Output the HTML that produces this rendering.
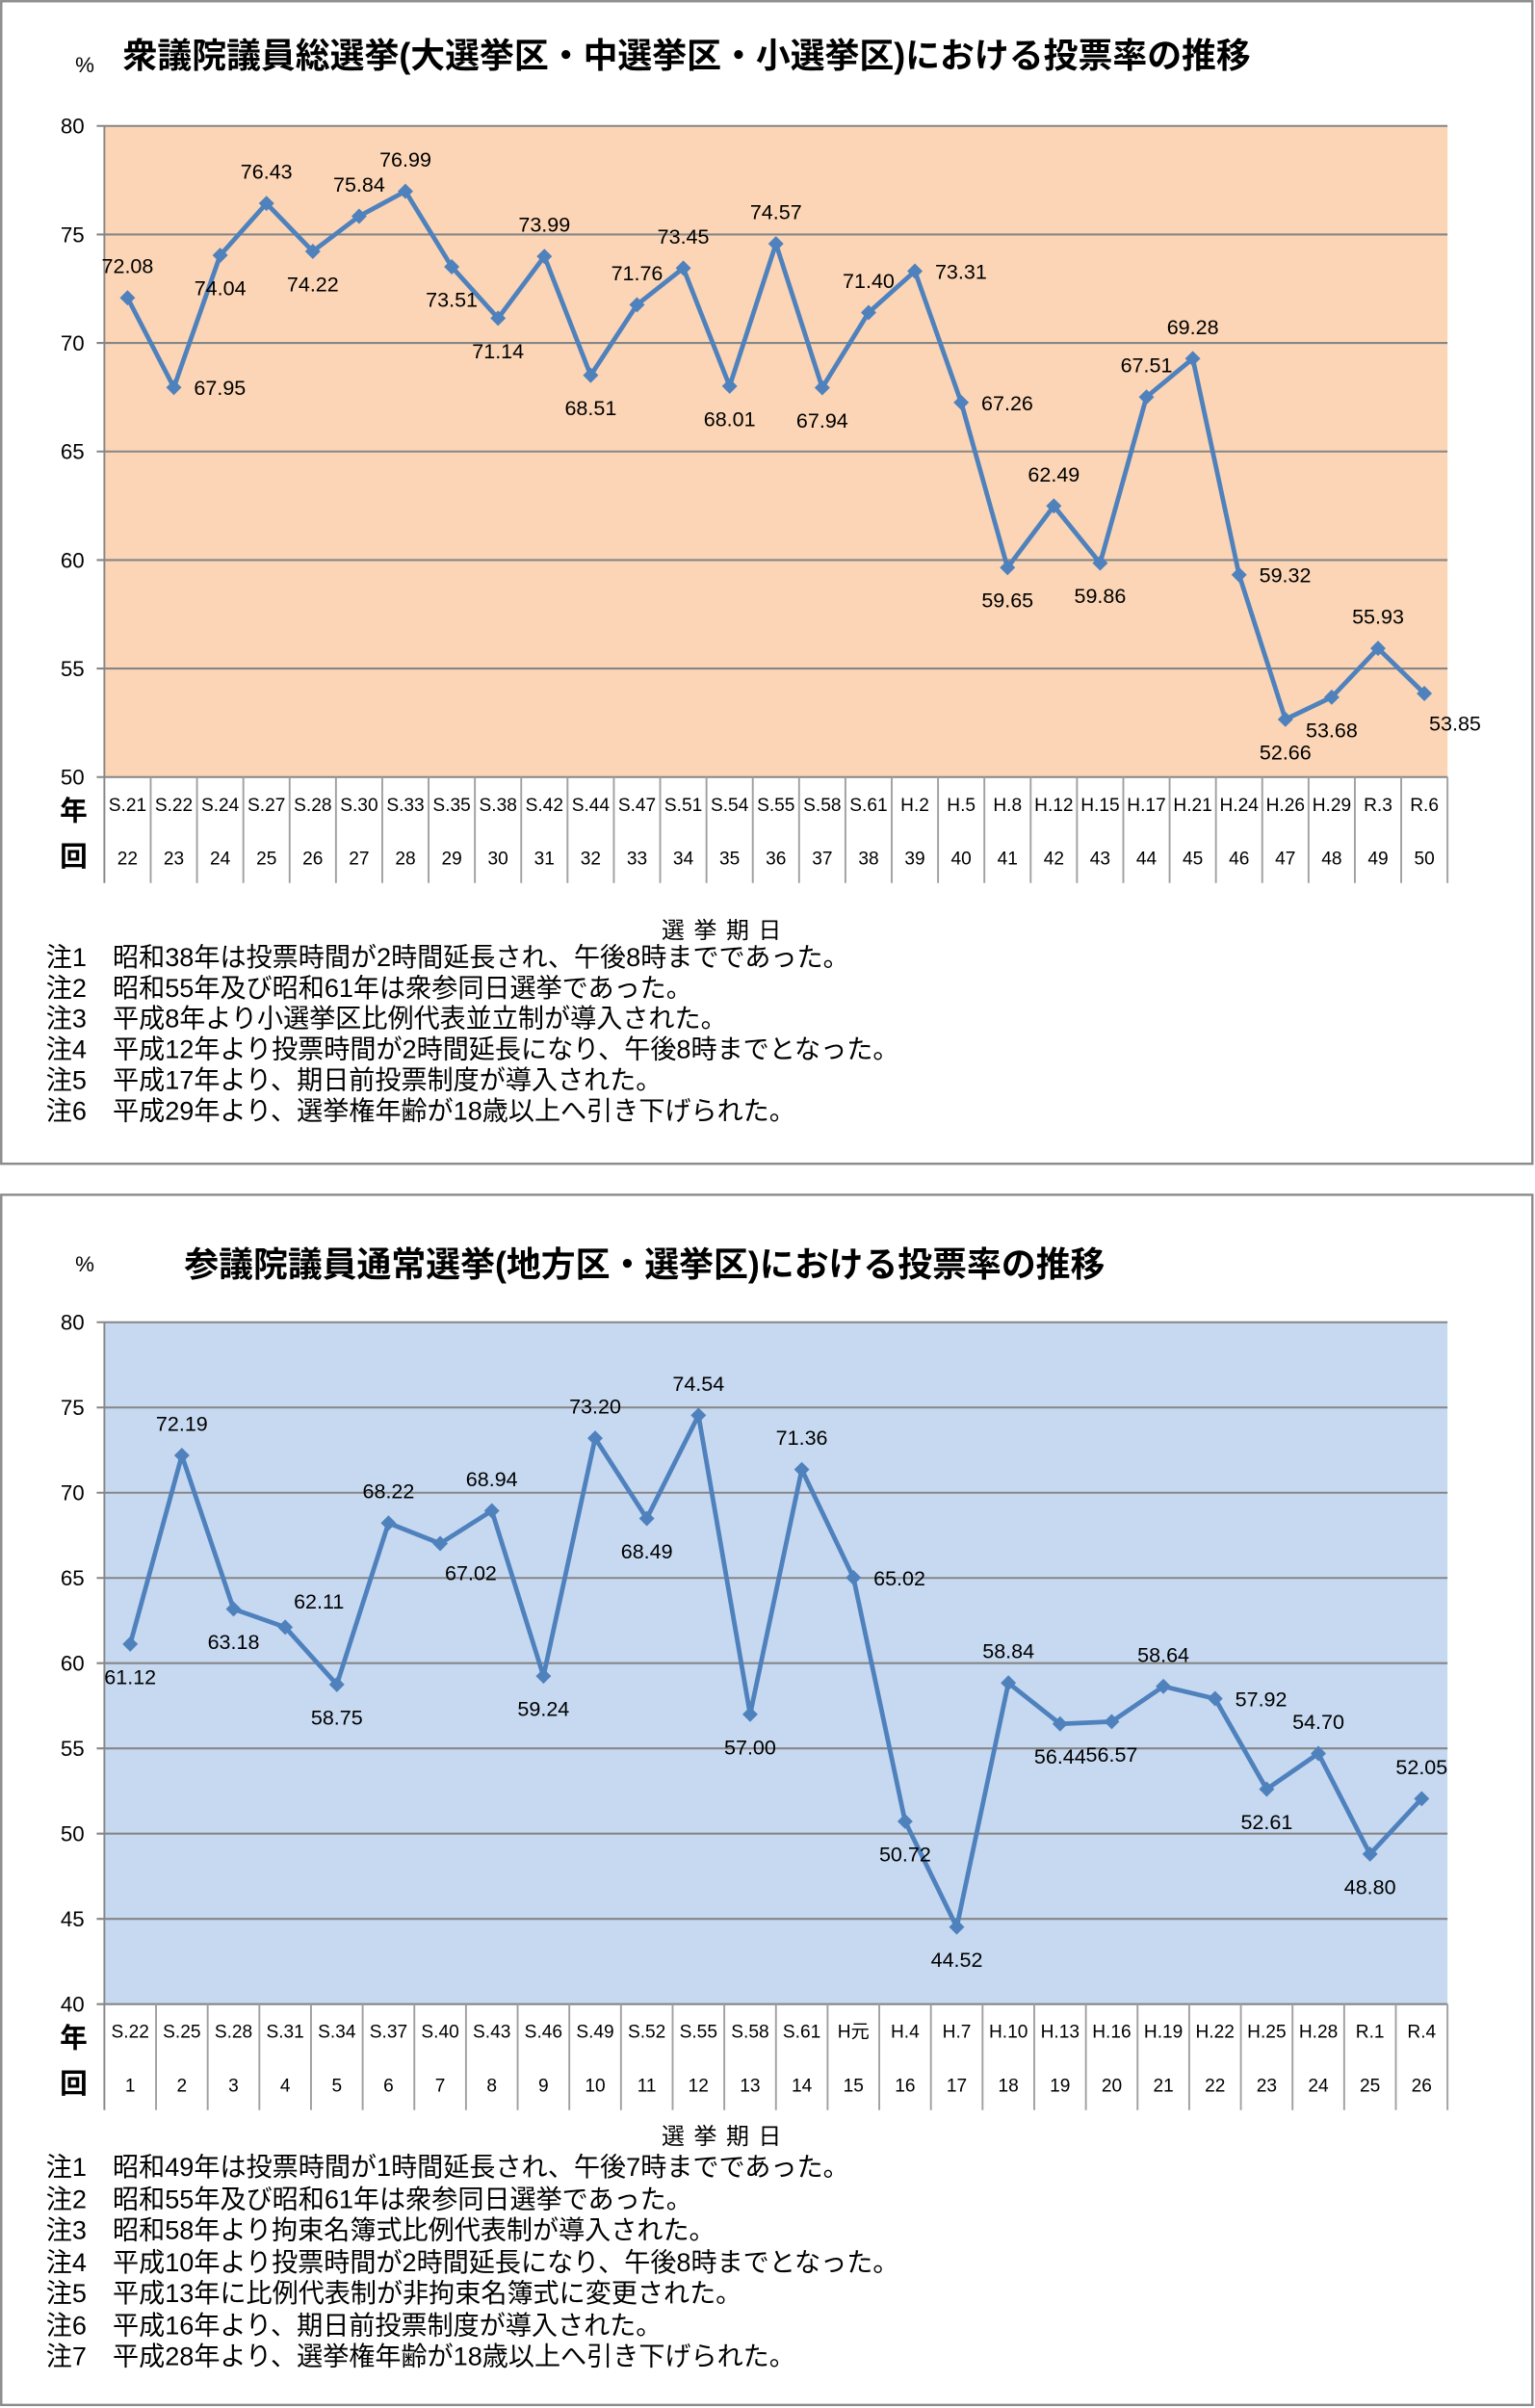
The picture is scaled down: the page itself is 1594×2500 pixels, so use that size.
<!DOCTYPE html>
<html><head><meta charset="utf-8">
<style>
html,body{margin:0;padding:0;background:#fff;}
svg{display:block;}
text{font-family:"Liberation Sans","Noto Sans CJK JP",sans-serif;fill:#000;}
.t{font-size:22.5px;font-weight:bold;}
.y{font-size:14px;}
.c{font-size:12px;}
.d{font-size:13.5px;}
.n{font-size:17px;}
.h{font-size:15px;letter-spacing:6px;}
</style></head><body>
<svg id="s" width="1594" height="2500" viewBox="0 0 1000 1568" preserveAspectRatio="none" xmlns="http://www.w3.org/2000/svg">
<rect x="0.8" y="0.8" width="997.5" height="757" fill="#fff" stroke="#8a8a8a" stroke-width="1.5"/>
<rect x="0.8" y="778" width="997.5" height="788" fill="#fff" stroke="#8a8a8a" stroke-width="1.5"/>
<text x="49" y="47" class="y">%</text>
<text x="80" y="44" class="t">衆議院議員総選挙(大選挙区・中選挙区・小選挙区)における投票率の推移</text>
<text x="49" y="828" class="y">%</text>
<text x="120" y="831" class="t">参議院議員通常選挙(地方区・選挙区)における投票率の推移</text>
<g id="g1"></g><g id="g2"></g>
<text x="473" y="611" class="h" text-anchor="middle">選挙期日</text>
<text x="30" y="629" class="n">注1　昭和38年は投票時間が2時間延長され、午後8時までであった。</text>
<text x="30" y="649" class="n">注2　昭和55年及び昭和61年は衆参同日選挙であった。</text>
<text x="30" y="669" class="n">注3　平成8年より小選挙区比例代表並立制が導入された。</text>
<text x="30" y="689" class="n">注4　平成12年より投票時間が2時間延長になり、午後8時までとなった。</text>
<text x="30" y="709" class="n">注5　平成17年より、期日前投票制度が導入された。</text>
<text x="30" y="729" class="n">注6　平成29年より、選挙権年齢が18歳以上へ引き下げられた。</text>
<text x="473" y="1396" class="h" text-anchor="middle">選挙期日</text>
<text x="30" y="1417" class="n">注1　昭和49年は投票時間が1時間延長され、午後7時までであった。</text>
<text x="30" y="1438" class="n">注2　昭和55年及び昭和61年は衆参同日選挙であった。</text>
<text x="30" y="1458" class="n">注3　昭和58年より拘束名簿式比例代表制が導入された。</text>
<text x="30" y="1479" class="n">注4　平成10年より投票時間が2時間延長になり、午後8時までとなった。</text>
<text x="30" y="1499" class="n">注5　平成13年に比例代表制が非拘束名簿式に変更された。</text>
<text x="30" y="1520" class="n">注6　平成16年より、期日前投票制度が導入された。</text>
<text x="30" y="1540" class="n">注7　平成28年より、選挙権年齢が18歳以上へ引き下げられた。</text>
</svg>
<script>
var NS="http://www.w3.org/2000/svg";
function el(p,n,a,t){var e=document.createElementNS(NS,n);for(var k in a)e.setAttribute(k,a[k]);if(t!==undefined)e.textContent=t;p.appendChild(e);return e;}
function chart(g,o){
 var L=68,R=943,T=o.top,B=o.bot,n=o.vals.length,cw=(R-L)/n;
 var ys=function(v){return B-(v-o.min)/(o.max-o.min)*(B-T);};
 el(g,"rect",{x:L,y:T,width:R-L,height:B-T,fill:o.bg});
 for(var v=o.min;v<=o.max;v+=5){var y=ys(v);
  el(g,"line",{x1:L-5,x2:R,y1:y,y2:y,stroke:"#868686","stroke-width":1.3});
  el(g,"text",{x:55,y:y+5,"class":"y","text-anchor":"end"},String(v));}
 el(g,"line",{x1:L,x2:L,y1:T,y2:B+69,stroke:"#868686","stroke-width":1.2});
 for(var i=1;i<=n;i++){var x=L+i*cw;el(g,"line",{x1:x,x2:x,y1:B,y2:B+69,stroke:"#a0a0a0","stroke-width":1.2});}
 el(g,"text",{x:48,y:B+28,"font-size":"18","font-weight":"bold","text-anchor":"middle"},"年");
 el(g,"text",{x:48,y:B+58,"font-size":"18","font-weight":"bold","text-anchor":"middle"},"回");
 var pts=[];
 for(var i=0;i<n;i++){var x=L+(i+.5)*cw;pts.push(x+","+ys(o.vals[i]));
  el(g,"text",{x:x,y:B+22,"class":"c","text-anchor":"middle"},o.cats[i]);
  el(g,"text",{x:x,y:B+57,"class":"c","text-anchor":"middle"},String(o.start+i));}
 el(g,"polyline",{points:pts.join(" "),fill:"none",stroke:"#4F81BD","stroke-width":3,"stroke-linejoin":"round"});
 for(var i=0;i<n;i++){var x=L+(i+.5)*cw,y=ys(o.vals[i]);
  el(g,"polygon",{points:(x-5)+","+y+" "+x+","+(y-5)+" "+(x+5)+","+y+" "+x+","+(y+5),fill:"#4F81BD"});
  var p=o.pos[i],dx=0,dy=0;
  if(p=="a")dy=-16;else if(p=="b")dy=26;else if(p=="r"){dx=30;dy=5;}else if(p=="br"){dx=20;dy=24;}else if(p=="ar"){dx=22;dy=-12;}
  el(g,"text",{x:x+dx,y:y+dy,"class":"d","text-anchor":"middle"},o.vals[i].toFixed(2));}
}
chart(document.getElementById("g1"),{top:82,bot:506,min:50,max:80,bg:"#FBD5B5",start:22,
 vals:[72.08,67.95,74.04,76.43,74.22,75.84,76.99,73.51,71.14,73.99,68.51,71.76,73.45,68.01,74.57,67.94,71.40,73.31,67.26,59.65,62.49,59.86,67.51,69.28,59.32,52.66,53.68,55.93,53.85],
 cats:["S.21","S.22","S.24","S.27","S.28","S.30","S.33","S.35","S.38","S.42","S.44","S.47","S.51","S.54","S.55","S.58","S.61","H.2","H.5","H.8","H.12","H.15","H.17","H.21","H.24","H.26","H.29","R.3","R.6"],
 pos:["a","r","b","a","b","a","a","b","b","a","b","a","a","b","a","b","a","r","r","b","a","b","a","a","r","b","b","a","br"]});
chart(document.getElementById("g2"),{top:861,bot:1305,min:40,max:80,bg:"#C6D9F1",start:1,
 vals:[61.12,72.19,63.18,62.11,58.75,68.22,67.02,68.94,59.24,73.20,68.49,74.54,57.00,71.36,65.02,50.72,44.52,58.84,56.44,56.57,58.64,57.92,52.61,54.70,48.80,52.05],
 cats:["S.22","S.25","S.28","S.31","S.34","S.37","S.40","S.43","S.46","S.49","S.52","S.55","S.58","S.61","H元","H.4","H.7","H.10","H.13","H.16","H.19","H.22","H.25","H.28","R.1","R.4"],
 pos:["b","a","b","ar","b","a","br","a","b","a","b","a","b","a","r","b","b","a","b","b","a","r","b","a","b","a"]});
</script>
</body></html>
